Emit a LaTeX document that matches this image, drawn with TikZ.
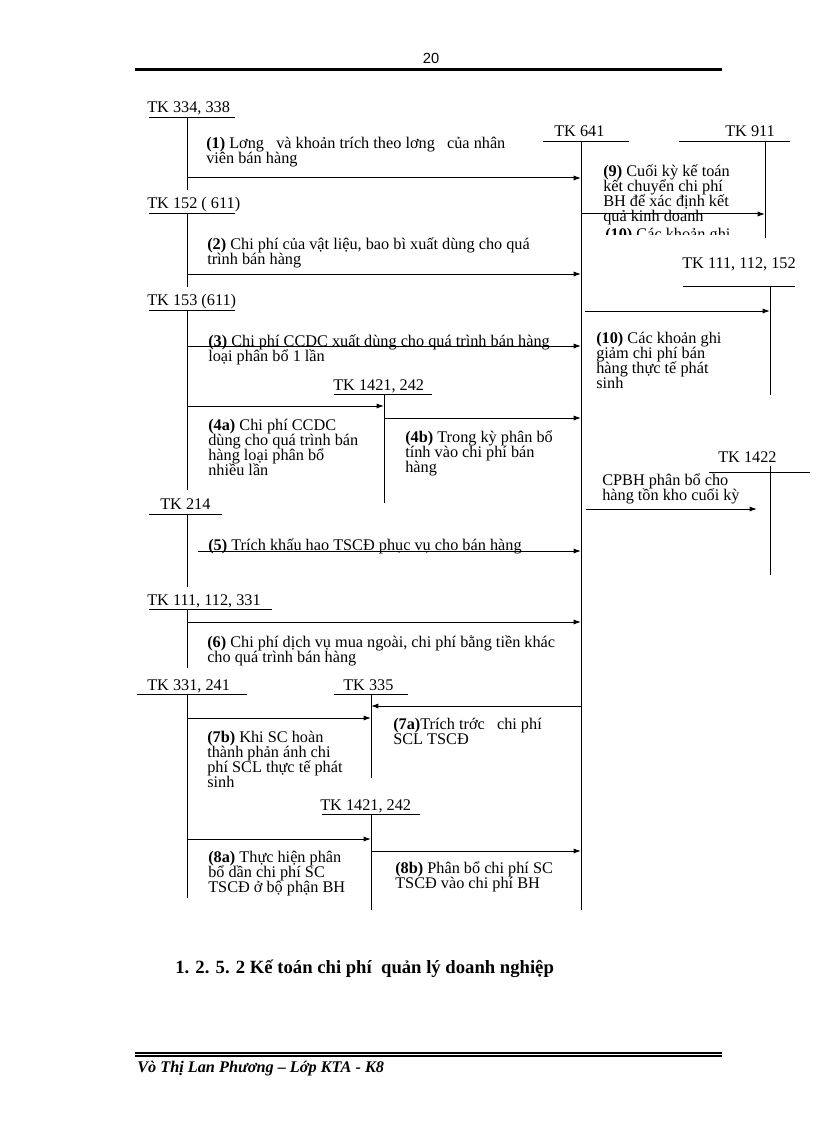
\documentclass[tikz,border=0pt]{standalone}
\usepackage{fontspec}
\setmainfont{Liberation Serif}
\newfontfamily\arialf{Liberation Sans}
\usetikzlibrary{arrows.meta}
\newcommand\tkf{\fontsize{12.2pt}{11.25pt}\selectfont\lineskiplimit=-30pt\lineskip=0pt}
\tikzset{
  acct/.style={anchor=base west, inner sep=0pt, font=\tkf},
  lbl/.style={anchor=base west, inner sep=0pt, align=left, font=\tkf},
  ln/.style={line width=0.75pt},
  arr/.style={ln, -{Latex[length=5.5pt,width=3.8pt]}},
  rule/.style={line width=0.75pt}
}
\begin{document}
\begin{tikzpicture}[x=0.75pt,y=-0.75pt]
\useasboundingbox[fill=white] (0,0) rectangle (816,1123);
% header
\node[anchor=base, inner sep=0pt, font=\arialf\fontsize{11pt}{12pt}\selectfont] (pg) at (431,64) {20};
\draw[line width=1.6pt] (135,69.5) -- (722,69.5);
% footer
\draw[line width=0.8pt] (135,1053) -- (722,1053);
\draw[line width=0.8pt] (135,1056) -- (722,1056);
\node[anchor=base west, inner sep=0pt, font=\bfseries\itshape\fontsize{12.2pt}{13pt}\selectfont] (auth) at (137,1072) {Vò Thị Lan Phương – Lớp KTA - K8};
% heading
\node[anchor=base west, inner sep=0pt, font=\bfseries\fontsize{14pt}{15pt}\selectfont] (head) at (175,973) {1. 2. 5. 2 Kế toán chi phí\ \ quản lý doanh nghiệp};

% account coordinates
\coordinate (v334) at (187,118);
\coordinate (v152) at (187,214);
\coordinate (v153) at (187,310);
\coordinate (v214) at (187,514);
\coordinate (v111) at (187,609);
\coordinate (v331) at (187,694);
\coordinate (v641) at (581,142);
\coordinate (v911) at (765,142);
\coordinate (vA) at (384,394);
\coordinate (v335) at (371,694);
\coordinate (vB) at (371,814);
\coordinate (vR) at (770,286);
\coordinate (v1422) at (770,472);

% account labels
\node[acct] (t334) at (147,113) {TK 334, 338};
\node[acct] (t641) at (554,137) {TK 641};
\node[acct] (t911) at (725,137) {TK 911};
\node[acct] (t152) at (147,209) {TK 152 ( 611)};
\node[acct] (t153) at (147,305) {TK 153 (611)};
\node[acct] (tA) at (333,390) {TK 1421, 242};
\node[acct] (t214) at (160,509) {TK 214};
\node[acct] (t111) at (147,605) {TK 111, 112, 331};
\node[acct] (t331) at (147,690) {TK 331, 241};
\node[acct] (t335) at (343,690) {TK 335};
\node[acct] (tB) at (320,810) {TK 1421, 242};
\node[acct] (tR) at (682,268) {TK 111, 112, 152};
\node[acct] (t1422) at (718,462) {TK 1422};

% T-account lines
\draw[rule] (149,118) -- (235,118);  \draw[rule] (v334) -- (187,190);
\draw[rule] (543,142) -- (629,142);  \draw[rule] (v641) -- (581,910);
\draw[rule] (679,142) -- (790,142);  \draw[rule] (v911) -- (765,238);
\draw[rule] (149,214) -- (235,214);  \draw[rule] (v152) -- (187,287);
\draw[rule] (149,310) -- (235,310);  \draw[rule] (v153) -- (187,490);
\draw[rule] (334,394) -- (432,394);  \draw[rule] (vA) -- (384,503);
\draw[rule] (149,514) -- (222,514);  \draw[rule] (v214) -- (187,587);
\draw[rule] (149,609) -- (272,609);  \draw[rule] (v111) -- (187,668);
\draw[rule] (137,694) -- (247,694);  \draw[rule] (v331) -- (187,898);
\draw[rule] (334,694) -- (408,694);  \draw[rule] (v335) -- (371,778);
\draw[rule] (322,814) -- (420,814);  \draw[rule] (vB) -- (371,910);
\draw[rule] (683,286) -- (795,286);  \draw[rule] (vR) -- (770,395);
\draw[rule] (709,472) -- (810,472);  \draw[rule] (770,466) -- (770,575);

% arrows
\draw[arr] (v334 |- 0,178) -- (v641 |- 0,178);
\draw[arr] (v152 |- 0,274) -- (v641 |- 0,274);
\draw[arr] (v153 |- 0,346) -- (v641 |- 0,346);
\draw[arr] (v153 |- 0,406) -- (vA |- 0,406);
\draw[arr] (vA |- 0,418) -- (v641 |- 0,418);
\coordinate (s5) at (198,551);
\draw[arr] (s5) -- (v641 |- s5);
\draw[arr] (v111 |- 0,622) -- (v641 |- 0,622);
\draw[arr] (v641 |- 0,706) -- (v335 |- 0,706);
\draw[arr] (v331 |- 0,718) -- (v335 |- 0,718);
\draw[arr] (v331 |- 0,839) -- (vB |- 0,839);
\draw[arr] (vB |- 0,851) -- (v641 |- 0,851);
\draw[arr] (v641 |- 0,214) -- (v911 |- 0,214);
\coordinate (s10) at (585,311);
\draw[arr] (s10) -- (vR |- s10);
\coordinate (sC) at (586,509);
\coordinate (eC) at (757,509);
\draw[arr] (sC) -- (eC);

% labels (anchor = baseline of the last line)
\node[lbl] (l1) at (206,164) {\textbf{(1)} Lơng\ \ \ và khoản trích theo lơng\ \ \ của nhân\\viên bán hàng};
\node[lbl] (l2) at (207,264) {\textbf{(2)} Chi phí của vật liệu, bao bì xuất dùng cho quá\\trình bán hàng};
\node[lbl] (l3) at (208,361) {\textbf{(3)} Chi phí CCDC xuất dùng cho quá trình bán hàng\\loại phân bổ 1 lần};
\node[lbl] (l4a) at (208,475) {\textbf{(4a)} Chi phí CCDC\\dùng cho quá trình bán\\hàng loại phân bổ\\nhiều lần};
\node[lbl] (l4b) at (405,472) {\textbf{(4b)} Trong kỳ phân bổ\\tính vào chi phí bán\\hàng};
\node[lbl] (l5) at (208,550) {\textbf{(5)} Trích khấu hao TSCĐ phục vụ cho bán hàng};
\node[lbl] (l6) at (207,662) {\textbf{(6)} Chi phí dịch vụ mua ngoài, chi phí bằng tiền khác\\cho quá trình bán hàng};
\node[lbl] (l7b) at (207,787) {\textbf{(7b)} Khi SC hoàn\\thành phản ánh chi\\phí SCL thực tế phát\\sinh};
\node[lbl] (l7a) at (393,744) {\textbf{(7a)}Trích trớc\ \ \ chi phí\\SCL TSCĐ};
\node[lbl] (l8a) at (208,892) {\textbf{(8a)} Thực hiện phân\\bổ dần chi phí SC\\TSCĐ ở bộ phận BH};
\node[lbl] (l8b) at (395,888) {\textbf{(8b)} Phân bổ chi phí SC\\TSCĐ vào chi phí BH};
\node[lbl] (l9) at (603,222) {\textbf{(9)} Cuối kỳ kế toán\\kết chuyển chi phí\\BH để xác định kết\\quả kinh doanh};
\begin{scope}
\clip (595,226) rectangle (760,235);
\node[lbl] (l9x) at (605,239) {\textbf{(10)} Các khoản ghi};
\end{scope}
\node[lbl] (l10) at (596,388) {\textbf{(10)} Các khoản ghi\\giảm chi phí bán\\hàng thực tế phát\\sinh};
\node[lbl] (lC) at (602,500) {CPBH phân bổ cho\\hàng tồn kho cuối kỳ};
\end{tikzpicture}
\end{document}
